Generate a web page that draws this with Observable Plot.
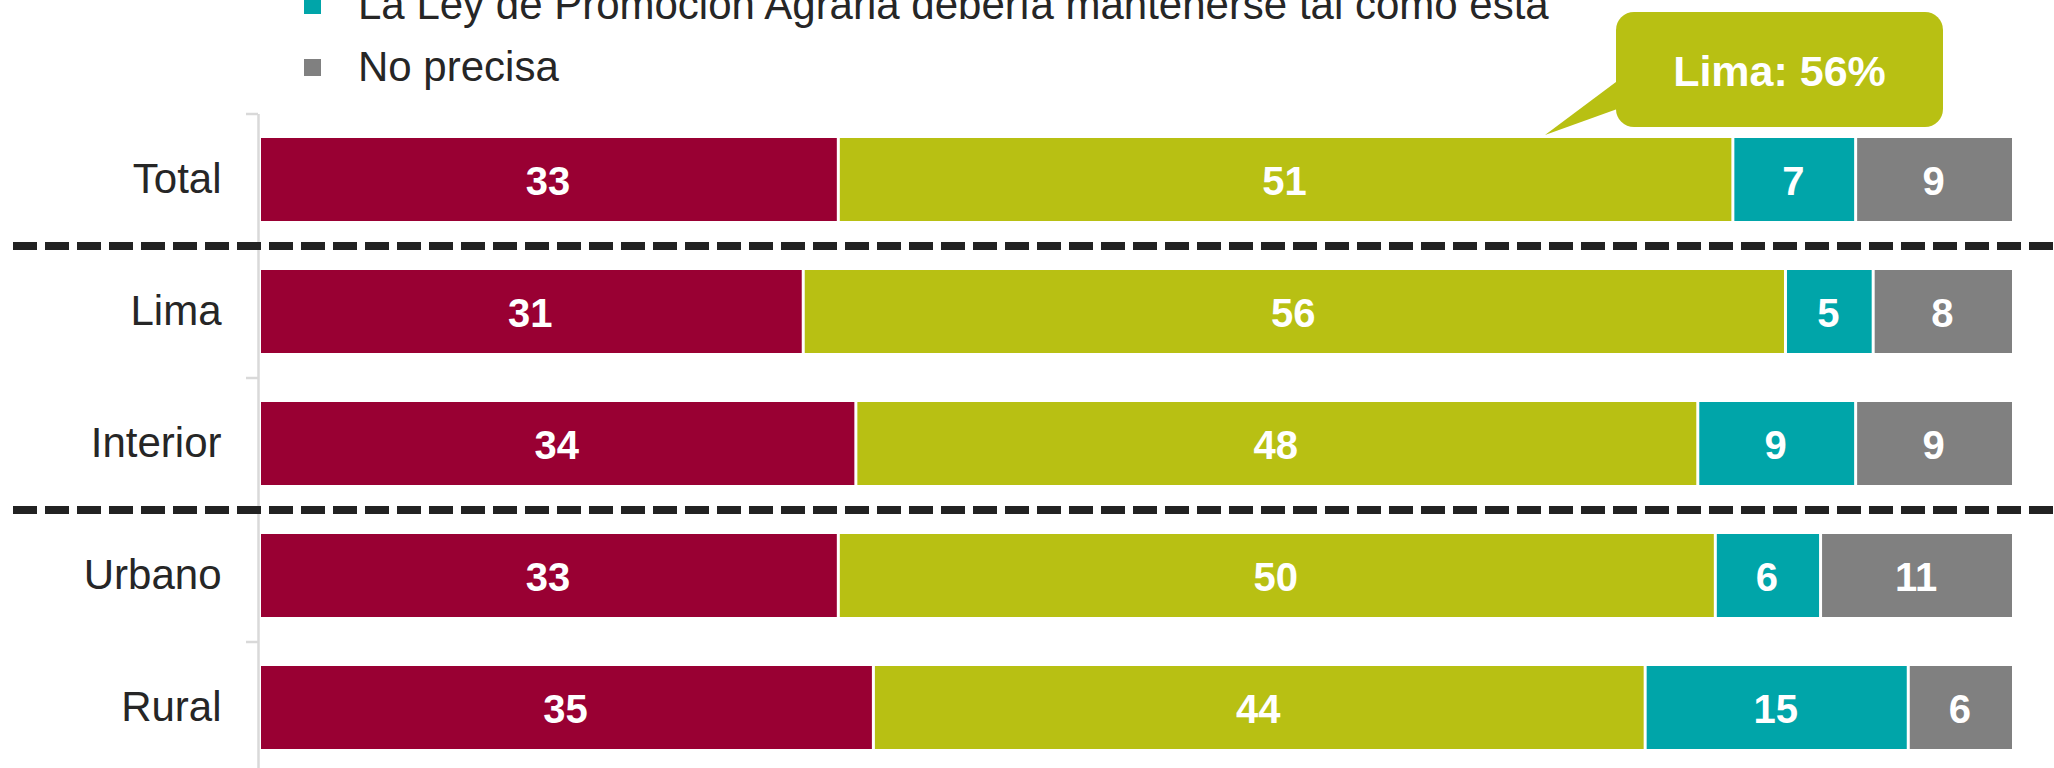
<!DOCTYPE html>
<html>
<head>
<meta charset="utf-8">
<script src="https://cdn.jsdelivr.net/npm/d3@7"></script>
<script src="https://cdn.jsdelivr.net/npm/@observablehq/plot@0.6"></script>
<style>
  html, body { margin: 0; padding: 0; background: #fff; overflow: hidden; }
  #wrap { position: relative; width: 2054px; height: 768px; font-family: "Liberation Sans", Arial, sans-serif; }
  #chart { position: absolute; left: 0; top: 0; }
  .legend-item { position: absolute; left: 304px; height: 62px; line-height: 62px; font-size: 42px; color: #262626; white-space: nowrap; }
  .legend-item .sw { position: absolute; left: 0; width: 17px; height: 17px; }
  .legend-item .lb { position: absolute; left: 54px; top: 0; }
  #callout { position: absolute; left: 1616px; top: 12px; width: 327px; height: 115px; border-radius: 18px; background: #B8C013;
             color: #fff; font-weight: bold; font-size: 43px; line-height: 118px; text-align: center; white-space: nowrap; }
  #pointer { position: absolute; left: 1540px; top: 75px; width: 82px; height: 65px; background: #B8C013;
             clip-path: polygon(80px 4px, 5px 60px, 80px 33px); }
</style>
</head>
<body>
<div id="wrap">
  <div id="chart"></div>
</div>
<script>
// ---- data ----
const categories = ["Total", "Lima", "Interior", "Urbano", "Rural"];
const seriesKeys = ["Derogar", "Modificar", "Mantener", "No precisa"];
const derogar   = [33, 31, 34, 33, 35];
const modificar = [51, 56, 48, 50, 44];
const mantener  = [7, 5, 9, 6, 15];
const noPrecisa = [9, 8, 9, 11, 6];
const seriesColors = ["#990033", "#B8C013", "#00A5A9", "#808080"];
const groupStarts = ["Lima", "Urbano"];
const legendLabels = ["La Ley de Promoción Agraria debería mantenerse tal como está", "No precisa"];
const legendColors = ["#00A5A9", "#808080"];
const calloutText = "Lima: 56%";

const seriesValues = [derogar, modificar, mantener, noPrecisa];
const table = [];
categories.forEach((cat, i) => {
  seriesKeys.forEach((s, j) => table.push({cat, series: s, value: seriesValues[j][i]}));
});

const chart = Plot.plot({
  width: 2054,
  height: 780,
  marginTop: 114,
  marginBottom: 6,
  marginLeft: 13,
  marginRight: 0,
  style: {fontFamily: '"Liberation Sans", Arial, sans-serif', background: "transparent"},
  x: {domain: [0, 100], range: [258, 2012], axis: null},
  y: {domain: categories, range: [114, 774], paddingInner: 0.37, paddingOuter: 0.185, axis: null},
  color: {domain: seriesKeys, range: seriesColors},
  marks: [
    Plot.ruleX([0], {stroke: "#d9d9d9", strokeWidth: 2.5}),
    Plot.ruleY(categories, {y: d => d, x1: 0, x2: 0, insetLeft: -12, dy: -66, stroke: "#d9d9d9", strokeWidth: 2.5}),
    Plot.barX(table, {x: "value", y: "cat", fill: "series", insetLeft: 3}),
    Plot.text(table, Plot.stackX({x: "value", y: "cat", z: "series", text: d => String(d.value),
      fill: "white", fontWeight: "bold", fontSize: 40, dy: 2})),
    Plot.text(categories, {y: d => d, x: 0, dx: -37, text: d => d, textAnchor: "end", fontSize: 42, fill: "#262626"}),
    Plot.ruleY(groupStarts, {y: d => d, dy: -66, stroke: "#222222", strokeWidth: 8, strokeDasharray: "24,8"})
  ]
});
document.getElementById("chart").appendChild(chart);

// ---- legend (upper part cropped, as in the reference) ----
const wrap = document.getElementById("wrap");
legendLabels.forEach((lab, i) => {
  const top = -26 + i * 62;
  const item = document.createElement("div");
  item.className = "legend-item";
  item.style.top = top + "px";
  const sw = document.createElement("span");
  sw.className = "sw";
  sw.style.background = legendColors[i];
  sw.style.top = "23px";
  const lb = document.createElement("span");
  lb.className = "lb";
  lb.textContent = lab;
  item.appendChild(sw);
  item.appendChild(lb);
  wrap.appendChild(item);
});

// ---- callout ----
const pointer = document.createElement("div");
pointer.id = "pointer";
wrap.appendChild(pointer);
const callout = document.createElement("div");
callout.id = "callout";
callout.textContent = calloutText;
wrap.appendChild(callout);
</script>
</body>
</html>
